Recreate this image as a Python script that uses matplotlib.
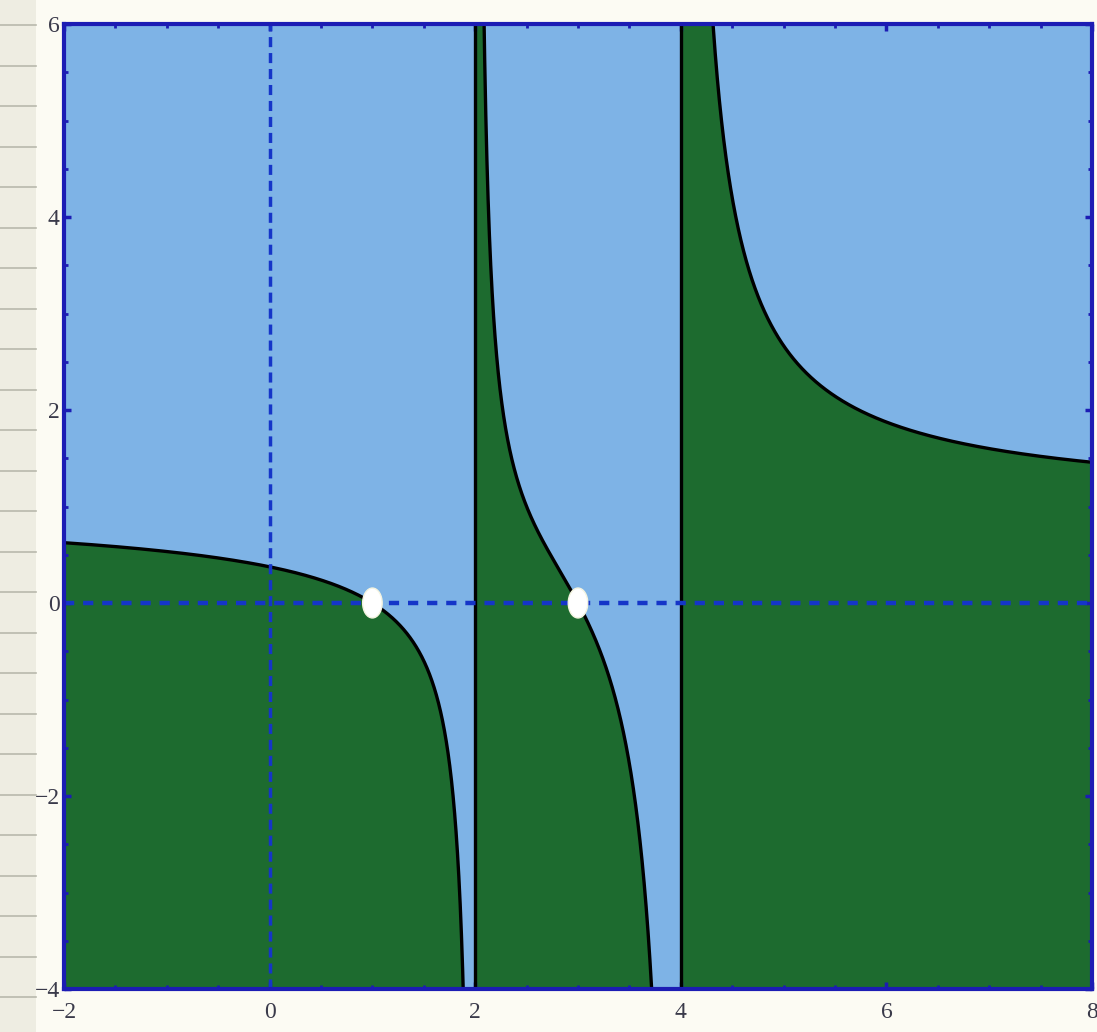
import numpy as np
import matplotlib.pyplot as plt
from matplotlib.patches import Ellipse, Rectangle
from matplotlib.lines import Line2D

# zeros and poles: f(x) = (x-1)(x-3) / ((x-2)(x-4))
roots = [1, 3]
poles = [2, 4]
x_range = [-2, 8]
y_range = [-4, 6]
x_ticks = [-2, 0, 2, 4, 6, 8]
y_ticks = [-4, -2, 0, 2, 4, 6]

blue_bg = '#7eb3e6'
green = '#1d6b2f'
axis_blue = '#1c1cb4'
dash_blue = '#1535c8'


def f(x):
    num = np.ones_like(x)
    den = np.ones_like(x)
    for r in roots:
        num = num * (x - r)
    for p in poles:
        den = den * (x - p)
    return num / den


fig = plt.figure(figsize=(10.97, 10.32), dpi=100)
fig.patch.set_facecolor('#fcfbf3')

# lined paper strip on the left
fig.patches.append(Rectangle((0, 0), 36 / 1097, 1, transform=fig.transFigure,
                             facecolor='#eeede2', edgecolor='none', zorder=0))
for yy in np.arange(1032 - 25, 0, -40.5):
    fig.lines.append(Line2D([0, 36 / 1097], [yy / 1032, yy / 1032], transform=fig.transFigure,
                            color='#b9b9ad', lw=1.2, zorder=1))

ax = fig.add_axes([64 / 1097, 43 / 1032, 1028 / 1097, 965 / 1032])
ax.set_facecolor(blue_bg)

edges = [x_range[0]] + poles + [x_range[1]]
for a, b in zip(edges[:-1], edges[1:]):
    xs = np.linspace(a + 1e-4, b - 1e-4, 4000)
    ys = np.clip(f(xs), y_range[0] - 1, y_range[1] + 1)
    ax.fill_between(xs, y_range[0] - 1, ys, color=green, lw=0, zorder=1)
    ax.plot(xs, ys, color='black', lw=2.4, zorder=3)

for p in poles:
    ax.axvline(p, color='black', lw=2.4, zorder=3)

ax.axhline(0, color=dash_blue, lw=3.2, ls=(0, (2.3, 2.0)), zorder=4)
ax.axvline(0, color=dash_blue, lw=2.5, ls=(0, (2.9, 1.7)), zorder=4)

for r in roots:
    ax.add_patch(Ellipse((r, 0), 0.19, 0.31, facecolor='white', edgecolor='#f4f4e0',
                         lw=1, zorder=5))

ax.set_xlim(x_range)
ax.set_ylim(y_range)
ax.set_xticks(x_ticks)
ax.set_yticks(y_ticks)
ax.set_xticks(np.arange(-2, 8.01, 0.5), minor=True)
ax.set_yticks(np.arange(-4, 6.01, 0.5), minor=True)
ax.set_xticklabels([str(t).replace('-', '\u2212') for t in x_ticks])
ax.set_yticklabels([str(t).replace('-', '\u2212') for t in y_ticks])
ax.tick_params(which='both', direction='in', color=axis_blue, top=True, right=True,
               labelcolor='#3a3a4a', labelsize=17)
ax.tick_params(axis='x', pad=9)
ax.tick_params(axis='y', pad=3)
ax.tick_params(which='major', length=5, width=2.5)
ax.tick_params(which='minor', length=3, width=2)
for lab in ax.get_xticklabels() + ax.get_yticklabels():
    lab.set_family('Liberation Serif')
for s in ax.spines.values():
    s.set_color(axis_blue)
    s.set_linewidth(3)
    s.set_zorder(6)

fig.savefig('out.png', dpi=100, facecolor=fig.get_facecolor())
